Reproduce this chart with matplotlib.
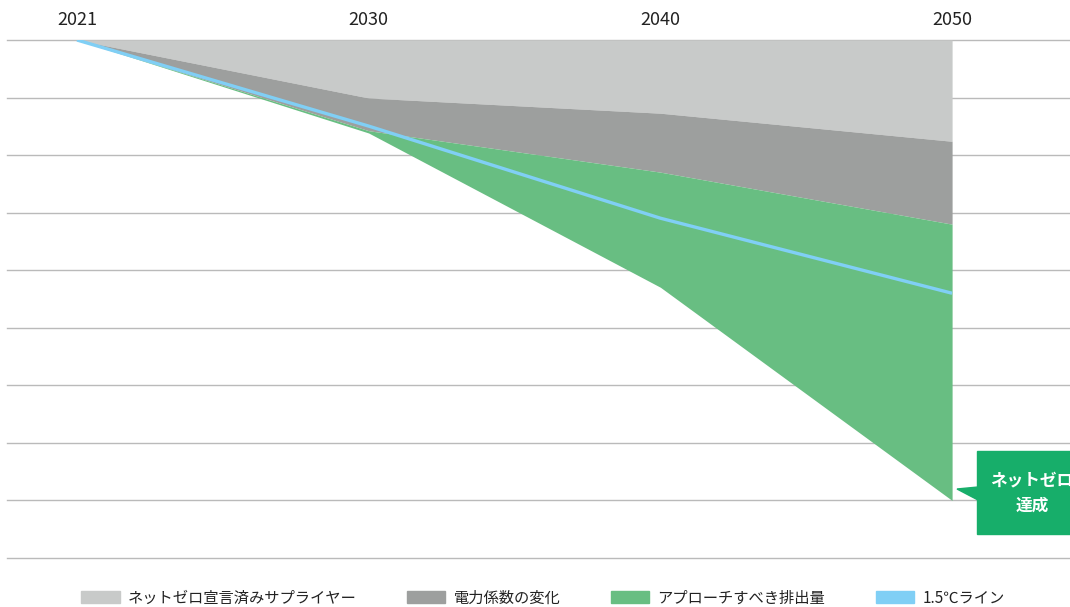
import matplotlib.pyplot as plt
from matplotlib.patches import Patch, Rectangle, Polygon

plt.rcParams['font.family'] = ['Noto Sans CJK JP', 'DejaVu Sans']

# ==========================================
# DATA (index 100 = 2021 emissions)
# ==========================================

years = ["2021", "2030", "2040", "2050"]

supplier = [100, 87.4, 84.1, 78.0]       # ネットゼロ宣言済みサプライヤー (lower edge)
power_factor = [100, 80.3, 71.3, 60.0]   # 電力係数の変化 (lower edge)
approach = [100, 79.8, 46.3, 0.0]        # アプローチすべき排出量 (lower edge)
line_15c = [100, 81.3, 61.3, 45.0]       # 1.5℃ライン

labels = ["ネットゼロ宣言済みサプライヤー", "電力係数の変化", "アプローチすべき排出量", "1.5℃ライン"]
colors = ["#c8cac9", "#9d9f9e", "#68be82", "#80cff5"]

# ==========================================
# FIGURE
# ==========================================

W, H = 1070, 607
fig = plt.figure(figsize=(W / 100, H / 100), dpi=100)
ax = fig.add_axes([7 / W, 1 - 558 / H, 1063 / W, 518 / H])

x = list(range(len(years)))

ax.fill_between(x, 100, supplier, color=colors[0], linewidth=0, zorder=2)
ax.fill_between(x, supplier, power_factor, color=colors[1], linewidth=0, zorder=2)
ax.fill_between(x, power_factor, approach, color=colors[2], linewidth=0, zorder=2)
ax.plot(x, line_15c, color=colors[3], linewidth=2.4, zorder=3, solid_capstyle="butt")

# horizontal grid
for v in [100 - 12.5 * i for i in range(10)]:
    ax.axhline(v, color="#bababa", linewidth=1, zorder=1, clip_on=False)

ax.set_xlim((7 - 77) / 291.7, (1070 - 77) / 291.7)
ax.set_ylim(-12.5, 100)

ax.xaxis.tick_top()
ax.set_xticks(x)
ax.set_xticklabels(years, fontsize=13, color="#222222")
ax.tick_params(axis="x", length=0, pad=8)
ax.set_yticks([])
for s in ax.spines.values():
    s.set_visible(False)

# ==========================================
# NET ZERO CALLOUT
# ==========================================

box_color = "#17ae6a"
fig.patches.append(Rectangle((977 / W, 1 - 534 / H), 110 / W, 83 / H,
                             transform=fig.transFigure, color=box_color, zorder=5))
fig.patches.append(Polygon([(957 / W, 1 - 489 / H), (978 / W, 1 - 487 / H), (978 / W, 1 - 500 / H)],
                           closed=True, transform=fig.transFigure, color=box_color, zorder=5))
fig.text(1032 / W, 1 - 493 / H, "ネットゼロ\n達成", ha="center", va="center",
         fontsize=12, fontweight="bold", color="white", linespacing=1.5, zorder=6)

# ==========================================
# LEGEND
# ==========================================

handles = [Patch(color=c) for c in colors]
fig.legend(handles, labels, loc="center", bbox_to_anchor=(543 / W, 1 - 598 / H), ncol=4,
           frameon=False, fontsize=11, handlelength=2.5, handleheight=0.8,
           handletextpad=0.55, columnspacing=3.3, labelcolor="#222222")

plt.savefig("out.png", dpi=100)
plt.close()
